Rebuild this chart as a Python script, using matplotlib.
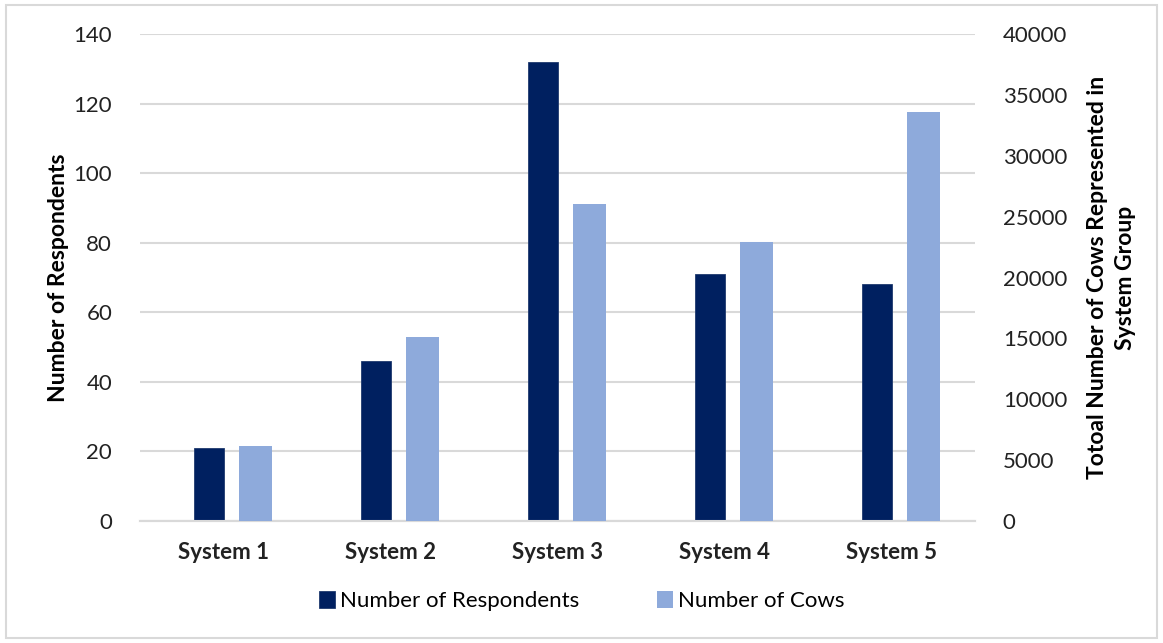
#!/usr/bin/env python3
"""Respondents and cows per system group, dual-axis bar chart."""

import matplotlib

matplotlib.use("Agg")
import matplotlib.pyplot as plt
import numpy as np
from matplotlib.patches import Rectangle

systems = ["System 1", "System 2", "System 3", "System 4", "System 5"]
respondents = [21, 46, 132, 71, 68]
cows = [6150, 15100, 26000, 22900, 33600]

DARK = "#002060"
LIGHT = "#8eaadb"
GRID = "#d9d9d9"

plt.rcParams["font.family"] = ["Lato", "DejaVu Sans"]

fig = plt.figure(figsize=(11.63, 6.43), dpi=100)
fig.patches.append(
    Rectangle((0.005, 0.008), 0.99, 0.984, transform=fig.transFigure,
              fill=False, edgecolor=GRID, linewidth=1.5)
)
ax = fig.add_axes([0.1204, 0.1897, 0.7180, 0.7574])
ax2 = ax.twinx()

x = np.arange(len(systems))
ax.bar(x - 0.087, respondents, width=0.18, color=DARK, edgecolor="#1f3a6e",
       linewidth=0.6, zorder=3, label="Number of Respondents")
ax2.bar(x + 0.19, cows, width=0.2, color=LIGHT, zorder=3, label="Number of Cows")

ax.set_xlim(-0.5, len(systems) - 0.5)
ax.set_ylim(0, 140)
ax.set_yticks(range(0, 141, 20))
ax2.set_ylim(0, 40000)
ax2.set_yticks(range(0, 40001, 5000))

ax.set_xticks(x)
ax.set_xticklabels(systems, fontsize=15.5, fontweight="bold")
ax.yaxis.grid(True, color=GRID, linewidth=1.5, zorder=0)
ax.set_axisbelow(True)

for a in (ax, ax2):
    for side in ("top", "left", "right"):
        a.spines[side].set_visible(False)
    a.spines["bottom"].set_color(GRID)
    a.spines["bottom"].set_linewidth(1.5)
    a.tick_params(length=0, labelsize=16, colors="#222222")
ax.tick_params(axis="y", pad=20)
ax.tick_params(axis="x", pad=15)
ax2.tick_params(axis="y", pad=20)

ax.set_ylabel("Number of Respondents", fontsize=16.5, fontweight="bold", labelpad=3)
ax2.set_ylabel("Totoal Number of Cows Represented in\nSystem Group", fontsize=16.5,
               fontweight="bold", labelpad=14, rotation=90, linespacing=1.45)

h1, l1 = ax.get_legend_handles_labels()
h2, l2 = ax2.get_legend_handles_labels()
fig.legend(h1 + h2, l1 + l2, loc="center", bbox_to_anchor=(0.5, 0.065), ncol=2,
           frameon=False, fontsize=16, handlelength=0.75, handleheight=0.75,
           handletextpad=0.2, columnspacing=3.5)

fig.savefig("out.png", dpi=100)
